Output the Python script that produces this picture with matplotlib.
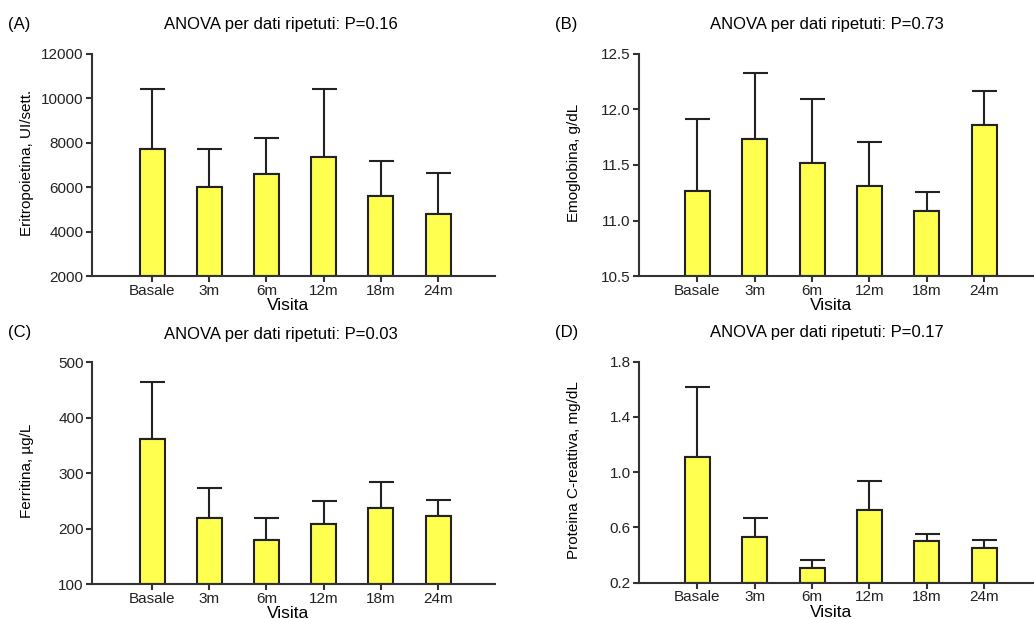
import matplotlib
matplotlib.use("Agg")
import matplotlib.pyplot as plt
import numpy as np

plt.rcParams["font.family"] = ["Liberation Sans", "DejaVu Sans"]

visits = ["Basale", "3m", "6m", "12m", "18m", "24m"]

epo_mean = [7700, 6000, 6580, 7350, 5600, 4800]
epo_sd = [2700, 1700, 1650, 3050, 1600, 1850]

hb_mean = [11.27, 11.73, 11.52, 11.31, 11.09, 11.86]
hb_sd = [0.64, 0.60, 0.57, 0.40, 0.17, 0.31]

ferr_mean = [361, 220, 179, 208, 237, 223]
ferr_sd = [103, 53, 40, 41, 47, 29]

pcr_mean = [1.11, 0.53, 0.31, 0.73, 0.50, 0.455]
pcr_sd = [0.51, 0.14, 0.055, 0.205, 0.055, 0.055]

panels = [
    ("(A)", "ANOVA per dati ripetuti: P=0.16", "Eritropoietina, UI/sett.",
     epo_mean, epo_sd, [2000, 4000, 6000, 8000, 10000, 12000], "{:.0f}"),
    ("(B)", "ANOVA per dati ripetuti: P=0.73", "Emoglobina, g/dL",
     hb_mean, hb_sd, [10.5, 11.0, 11.5, 12.0, 12.5], "{:.1f}"),
    ("(C)", "ANOVA per dati ripetuti: P=0.03", "Ferritina, \u00b5g/L",
     ferr_mean, ferr_sd, [100, 200, 300, 400, 500], "{:.0f}"),
    ("(D)", "ANOVA per dati ripetuti: P=0.17", "Proteina C-reattiva, mg/dL",
     pcr_mean, pcr_sd, [0.2, 0.6, 1.0, 1.4, 1.8], "{:.1f}"),
]

# axes boxes in figure fraction: left, bottom, width, height
boxes = [
    [0.089, 0.554, 0.390, 0.359],
    [0.618, 0.554, 0.382, 0.359],
    [0.089, 0.0565, 0.390, 0.358],
    [0.618, 0.0586, 0.382, 0.357],
]
xlims = [(-1.05, 6.0), (-1.02, 5.87), (-1.05, 6.0), (-1.02, 5.87)]
label_pos = [(8, 24), (555, 24), (8, 333), (555, 332)]
title_pos = [(281, 25), (827, 25), (281, 334), (827, 333)]

W, H = 1034, 619
fig = plt.figure(figsize=(W / 100, H / 100), dpi=100)

edge = "#222222"
x = np.arange(len(visits))

for (tag, title, ylab, mean, sd, ticks, fmt), box, xl, lp, tp in zip(
    panels, boxes, xlims, label_pos, title_pos
):
    ax = fig.add_axes(box)
    wpx, hpx = box[2] * W, box[3] * H
    base = ticks[0]
    mean = np.array(mean)
    ax.errorbar(x, mean, yerr=[np.zeros(len(sd)), sd], fmt="none",
                ecolor=edge, elinewidth=1.5, capsize=9, capthick=1.5, zorder=1)
    ax.bar(x, mean - base, bottom=base, width=0.44, color="#ffff50",
           edgecolor=edge, linewidth=1.5, zorder=2)
    ax.set_xlim(*xl)
    ax.set_ylim(ticks[0], ticks[-1])
    ax.set_yticks(ticks)
    ax.set_yticklabels([fmt.format(t) for t in ticks])
    ax.set_xticks(x)
    ax.set_xticklabels(visits)
    for s in ["top", "right"]:
        ax.spines[s].set_visible(False)
    for s in ["left", "bottom"]:
        ax.spines[s].set_color("#333333")
        ax.spines[s].set_linewidth(1.5)
    ax.tick_params(length=4, width=1.5, color="#333333", labelsize=11,
                   labelcolor="#222222", pad=2)
    ax.tick_params(axis="x", pad=1.5)
    ax.set_ylabel(ylab, fontsize=11, va="center")
    ax.yaxis.set_label_coords(-65 / wpx, 0.51)
    ax.set_xlabel("Visita", fontsize=12.5, va="center")
    ax.xaxis.set_label_coords(0.485, -29.5 / hpx)
    fig.text(lp[0] / W, 1 - lp[1] / H, tag, fontsize=12, va="center", ha="left")
    fig.text(tp[0] / W, 1 - tp[1] / H, title, fontsize=12, va="center", ha="center")

fig.savefig("out.png", dpi=100)
